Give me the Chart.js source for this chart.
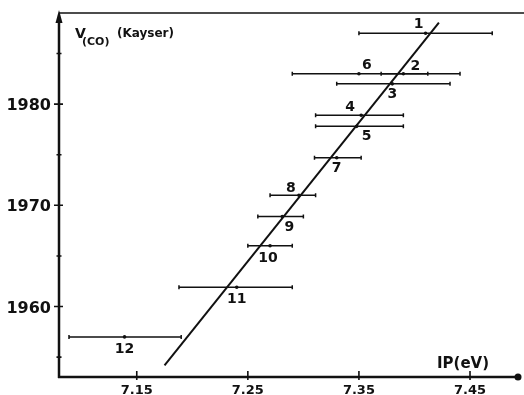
<!DOCTYPE html>
<html>
<head>
<meta charset="utf-8">
<script src="https://cdn.jsdelivr.net/npm/chart.js@4/dist/chart.umd.min.js"></script>
<style>
  html, body { margin: 0; padding: 0; background: #fff; }
  #wrap { width: 524px; height: 395px; }
</style>
</head>
<body>
<div id="wrap"><canvas id="c" width="524" height="395"></canvas></div>
<script>
// Carbonyl stretching frequency vs. ionisation potential, compounds 1-12
const compoundIds = ['1', '2', '3', '4', '5', '6', '7', '8', '9', '10', '11', '12'];
const ipCenter = [7.41, 7.39, 7.38, 7.352, 7.348, 7.35, 7.33, 7.296, 7.281, 7.27, 7.24, 7.139];
const ipLow    = [7.35, 7.37, 7.33, 7.311, 7.311, 7.29, 7.31, 7.27, 7.259, 7.25, 7.188, 7.089];
const ipHigh   = [7.47, 7.441, 7.432, 7.39, 7.39, 7.412, 7.352, 7.311, 7.30, 7.29, 7.29, 7.19];
const nuCO     = [1987, 1983, 1982, 1978.9, 1977.8, 1983, 1974.7, 1971, 1968.9, 1966, 1961.9, 1957];

// straight-line correlation
const fitIP = [7.175, 7.422];
const fitNu = [1954.2, 1988.05];

// axis ticks
const xTicks = [7.15, 7.25, 7.35, 7.45];
const xTickLabels = ['7.15', '7.25', '7.35', '7.45'];
const yTicks = [1960, 1970, 1980];
const yTickLabels = ['1960', '1970', '1980'];
const yMinorTicks = [1955, 1965, 1975, 1985];

// where each number sits relative to its point (px)
const labelOffsets = [[-7, -9], [12, -7], [0, 11], [-11, -8], [10, 10], [8, -8],
                      [0, 11], [-8, -7], [7, 11], [-2, 12.5], [0, 12], [0, 12]];

const FONT = '"DejaVu Sans", sans-serif';
const INK = '#111';

const points = ipCenter.map((x, i) => ({ x: x, y: nuCO[i] }));
const fitLine = fitIP.map((x, i) => ({ x: x, y: fitNu[i] }));

const drawing = {
  id: 'drawing',
  afterDatasetsDraw(chart) {
    const ctx = chart.ctx;
    const xs = chart.scales.x, ys = chart.scales.y;
    const area = chart.chartArea;
    ctx.save();
    ctx.strokeStyle = INK;
    ctx.fillStyle = INK;
    ctx.lineCap = 'butt';

    // horizontal error bars
    ctx.lineWidth = 1.5;
    for (let i = 0; i < nuCO.length; i++) {
      const y = ys.getPixelForValue(nuCO[i]);
      const x0 = xs.getPixelForValue(ipLow[i]);
      const x1 = xs.getPixelForValue(ipHigh[i]);
      ctx.beginPath();
      ctx.moveTo(x0, y); ctx.lineTo(x1, y);
      ctx.moveTo(x0, y - 2); ctx.lineTo(x0, y + 2);
      ctx.moveTo(x1, y - 2); ctx.lineTo(x1, y + 2);
      ctx.stroke();
    }

    // compound numbers
    ctx.font = 'bold 14px ' + FONT;
    ctx.textAlign = 'center';
    ctx.textBaseline = 'middle';
    for (let i = 0; i < compoundIds.length; i++) {
      const px = xs.getPixelForValue(ipCenter[i]) + labelOffsets[i][0];
      const py = ys.getPixelForValue(nuCO[i]) + labelOffsets[i][1];
      ctx.fillText(compoundIds[i], px, py);
    }

    const left = area.left, bottom = area.bottom, top = area.top;
    const right = area.right;

    // frame line across the top
    ctx.lineWidth = 1.5;
    ctx.beginPath();
    ctx.moveTo(left, top); ctx.lineTo(chart.width, top);
    ctx.stroke();

    // y axis with arrow
    ctx.lineWidth = 2.5;
    ctx.beginPath();
    ctx.moveTo(left, bottom + 1); ctx.lineTo(left, top + 8);
    ctx.stroke();
    ctx.beginPath();
    ctx.moveTo(left, top - 3);
    ctx.lineTo(left - 3.5, top + 10);
    ctx.lineTo(left + 3.5, top + 10);
    ctx.closePath();
    ctx.fill();

    // x axis ending in a dot
    ctx.beginPath();
    ctx.moveTo(left - 1, bottom); ctx.lineTo(right, bottom);
    ctx.stroke();
    ctx.beginPath();
    ctx.arc(right, bottom, 3.5, 0, Math.PI * 2);
    ctx.fill();

    // ticks
    ctx.lineWidth = 1.6;
    ctx.beginPath();
    xTicks.forEach(v => {
      const x = xs.getPixelForValue(v);
      ctx.moveTo(x, bottom - 6); ctx.lineTo(x, bottom + 3);
    });
    yTicks.forEach(v => {
      const y = ys.getPixelForValue(v);
      ctx.moveTo(left - 5, y); ctx.lineTo(left + 4, y);
    });
    yMinorTicks.forEach(v => {
      const y = ys.getPixelForValue(v);
      ctx.moveTo(left - 2.5, y); ctx.lineTo(left + 2.5, y);
    });
    ctx.stroke();

    // tick labels
    ctx.font = 'bold 16px ' + FONT;
    ctx.textAlign = 'right';
    ctx.textBaseline = 'middle';
    yTicks.forEach((v, i) => {
      ctx.fillText(yTickLabels[i], left - 8, ys.getPixelForValue(v) + 2);
    });
    ctx.font = 'bold 13px ' + FONT;
    ctx.textAlign = 'center';
    ctx.textBaseline = 'top';
    xTicks.forEach((v, i) => {
      ctx.fillText(xTickLabels[i], xs.getPixelForValue(v), bottom + 7);
    });

    // axis titles
    ctx.textAlign = 'left';
    ctx.textBaseline = 'alphabetic';
    ctx.font = 'bold 14px ' + FONT;
    ctx.fillText('V', 75, 38);
    ctx.font = 'bold 11px ' + FONT;
    ctx.fillText('(CO)', 82, 45);
    ctx.font = 'bold 12px ' + FONT;
    ctx.fillText('(Kayser)', 117, 37);

    ctx.font = 'bold 15px ' + FONT;
    ctx.textAlign = 'center';
    ctx.fillText('IP(eV)', 463, 368);

    ctx.restore();
  }
};

new Chart(document.getElementById('c'), {
  type: 'scatter',
  data: {
    datasets: [
      {
        data: points,
        pointRadius: 1.8,
        pointBackgroundColor: INK,
        pointBorderWidth: 0
      },
      {
        type: 'line',
        data: fitLine,
        borderColor: INK,
        borderWidth: 2,
        pointRadius: 0,
        fill: false
      }
    ]
  },
  options: {
    responsive: false,
    animation: false,
    layout: { padding: { left: 59, top: 13, right: 6, bottom: 18 } },
    scales: {
      x: { type: 'linear', min: 7.08, max: 7.4932, display: false },
      y: { type: 'linear', min: 1953.04, max: 1989, display: false }
    },
    plugins: { legend: { display: false }, tooltip: { enabled: false } }
  },
  plugins: [drawing]
});
</script>
</body>
</html>
